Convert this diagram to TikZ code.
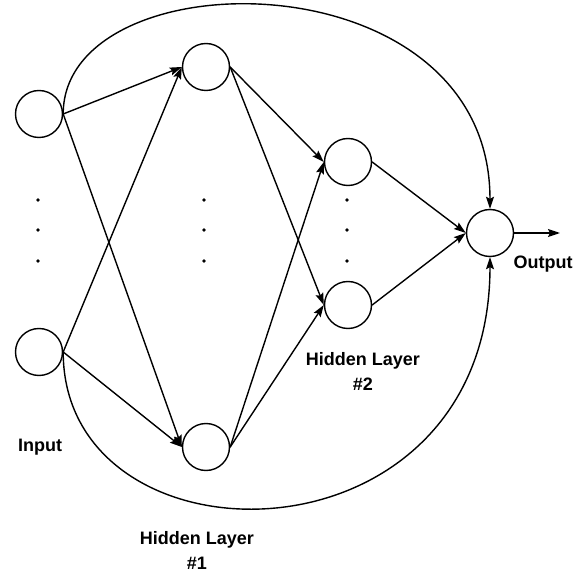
\documentclass[tikz,border=0pt]{standalone}
\usepackage{fontspec}
\setmainfont{Liberation Sans}
\usetikzlibrary{arrows.meta,calc}
\def\ColIn{39}
\def\ColHa{206}
\def\ColHb{348}
\def\ColOut{490}
\def\DotColumns{38,204,347}
\def\DotRows{200,230,261}
\def\ArcRise{158}
\def\ArcDrop{222}

\begin{document}
\begin{tikzpicture}[
  x=1pt, y=-1pt,
  >={Stealth[length=12pt,width=8pt,inset=2pt]}, line cap=round, line join=round,
  neuron/.style={draw, circle, line width=1.4pt, minimum size=47pt, inner sep=0pt},
  link/.style={->, line width=1.4pt},
  every node/.style={font=\fontsize{18}{25}\selectfont\bfseries}
]
\useasboundingbox (0,0) rectangle (579,572);

% --- Neurons -----------------------------------------------------------
\node[neuron] (in1) at (\ColIn,114) {};
\node[neuron] (in2) at (\ColIn,352) {};
\node[neuron] (h1a) at (\ColHa,67) {};
\node[neuron] (h1b) at (\ColHa,447) {};
\node[neuron] (h2a) at (\ColHb,162) {};
\node[neuron] (h2b) at (\ColHb,305) {};
\node[neuron] (out) at (\ColOut,233) {};

% --- Ellipsis dots -----------------------------------------------------
\foreach \cx in \DotColumns
  \foreach \cy in \DotRows
    \fill (\cx,\cy) circle (1.8pt);

% --- Layer-to-layer connections ----------------------------------------
\foreach \a in {in1,in2}
  \foreach \b in {h1a,h1b}
    \draw[link] (\a.east) -- (\b.west);
\foreach \a in {h1a,h1b}
  \foreach \b in {h2a,h2b}
    \draw[link] (\a.east) -- (\b.west);
\foreach \a in {h2a,h2b}
  \draw[link] (\a.east) -- (out.west);

\coordinate (yout) at (560,233);
\draw[link] (out.east) -- (yout);

% --- Direct input-to-output connections --------------------------------
\draw[link] (in1.east)
  .. controls ($(in1.east)+(0,-\ArcRise)$)
          and ($(out.north)+(0,-255)$) .. (out.north);
\draw[link] (in2.east)
  .. controls ($(in2.east)+(0,\ArcDrop)$)
          and ($(out.south)+(0,317)$) .. (out.south);

% --- Labels ------------------------------------------------------------
\node[anchor=base] (lin) at (40,451) {Input};
\node[anchor=base] (lout) at (543,269) {Output};
\node[align=center] (lh1) at (197,550) {Hidden Layer\\\#1};
\node[align=center] (lh2) at (363,371) {Hidden Layer\\\#2};

\end{tikzpicture}
\end{document}
